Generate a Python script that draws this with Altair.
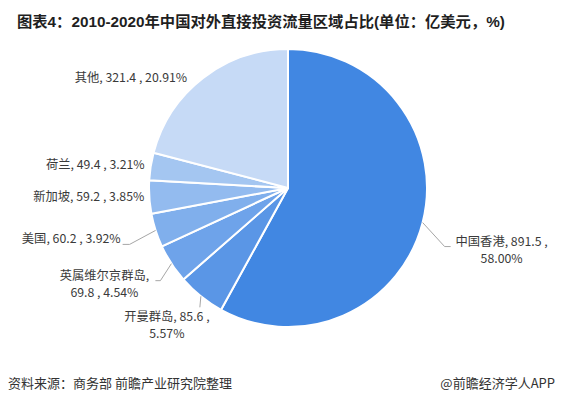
import math
import pandas as pd
import altair as alt

# data
regions = ["中国香港", "开曼群岛", "英属维尔京群岛", "美国", "新加坡", "荷兰", "其他"]
values = [891.5, 85.6, 69.8, 60.2, 59.2, 49.4, 321.4]
shares = ["58.00%", "5.57%", "4.54%", "3.92%", "3.85%", "3.21%", "20.91%"]
colors = ["#4187e2", "#5a96e6", "#6ea3ea", "#80afec", "#93bbef", "#a4c6f1", "#c6daf6"]

title = "图表4：2010-2020年中国对外直接投资流量区域占比(单位：亿美元，%)"
source = "资料来源：商务部 前瞻产业研究院整理"
brand = "@前瞻经济学人APP"

# layout (pixels inside the chart)
W, H = 547, 390
CX, CY, R = 280, 180, 139
FONT = "Noto Sans CJK SC"

# label placement relative to the slice's edge point: dx, dy, align
label_nudge = {
    "中国香港": (79, 20, "center"),
    "开曼群岛": (-34, 22, "center"),
    "英属维尔京群岛": (-67, 13, "center"),
    "美国": (-35, 10, "right"),
    "新加坡": (-5, 1, "right"),
    "荷兰": (-6, 0, "right"),
    "其他": (-16, 1, "right"),
}
break_after_value = {"中国香港", "开曼群岛"}
break_after_name = {"英属维尔京群岛"}

# leader line points relative to the edge point
leaders = {
    "中国香港": [(0, 0), (22, 24), (28, 24)],
    "美国": [(0, 0), (-26, 14), (-33, 14)],
    "英属维尔京群岛": [(0, 0), (-11, 17), (-16, 17)],
    "开曼群岛": [(0, 0), (-1, 11)],
}

df = pd.DataFrame({"region": regions, "value": values, "share": shares})
df["idx"] = range(len(df))
total = df["value"].sum()
df["mid"] = (df["value"].cumsum() - df["value"] / 2) / total * 2 * math.pi
df["ex"] = CX + R * df["mid"].apply(math.sin)
df["ey"] = CY - R * df["mid"].apply(math.cos)


def label_text(row):
    if row.region in break_after_value:
        return f"{row.region}, {row.value} ,\n{row.share}"
    if row.region in break_after_name:
        return f"{row.region},\n{row.value} , {row.share}"
    return f"{row.region}, {row.value} , {row.share}"


df["label"] = df.apply(label_text, axis=1)
df["lx"] = df["ex"] + df["region"].map(lambda r: label_nudge[r][0])
df["ly"] = df["ey"] + df["region"].map(lambda r: label_nudge[r][1]) - 7
df["align"] = df["region"].map(lambda r: label_nudge[r][2])

pts = []
for _, row in df.iterrows():
    for k, (dx, dy) in enumerate(leaders.get(row.region, [])):
        pts.append({"region": row.region, "k": k, "px": row.ex + dx, "py": row.ey + dy})
lines_df = pd.DataFrame(pts)

pie = alt.Chart(df).mark_arc(outerRadius=R, stroke="white", strokeWidth=2).encode(
    theta=alt.Theta("value:Q", stack=True),
    order=alt.Order("idx:Q"),
    color=alt.Color("region:N", scale=alt.Scale(domain=regions, range=colors), legend=None),
    x=alt.value(CX),
    y=alt.value(CY),
)

leader = alt.Chart(lines_df).mark_line(color="#a6a6a6", strokeWidth=1).encode(
    x=alt.X("px:Q", scale=None, axis=None),
    y=alt.Y("py:Q", scale=None, axis=None),
    detail="region:N",
    order="k:Q",
)


def labels(align):
    return alt.Chart(df).transform_filter(alt.datum.align == align).mark_text(
        align=align, baseline="top", font=FONT, fontSize=12.3, color="#3a3a3a",
        lineBreak="\n", lineHeight=17,
    ).encode(
        x=alt.X("lx:Q", scale=None, axis=None),
        y=alt.Y("ly:Q", scale=None, axis=None),
        text="label:N",
    )


header = pd.DataFrame({"t": [title]})
foot = pd.DataFrame({"t": [source], "b": [brand]})

title_mark = alt.Chart(header).mark_text(
    align="left", baseline="middle", font="Liberation Sans, " + FONT,
    fontSize=15.3, fontWeight="bold", color="#1f1f1f",
).encode(x=alt.value(9), y=alt.value(14), text="t:N")

source_mark = alt.Chart(foot).mark_text(
    align="left", baseline="middle", font=FONT, fontSize=13, color="#333333",
).encode(x=alt.value(0), y=alt.value(376), text="t:N")

brand_mark = alt.Chart(foot).mark_text(
    align="right", baseline="middle", font=FONT, fontSize=13, color="#333333",
).encode(x=alt.value(W), y=alt.value(376), text="b:N")

chart = alt.layer(
    pie, leader, labels("right"), labels("center"), title_mark, source_mark, brand_mark
).properties(
    width=W, height=H, autosize=alt.AutoSizeParams(type="none"), padding=0,
).configure_view(stroke=None)

chart.save("out.html", embed_options={"renderer": "svg", "actions": False})
